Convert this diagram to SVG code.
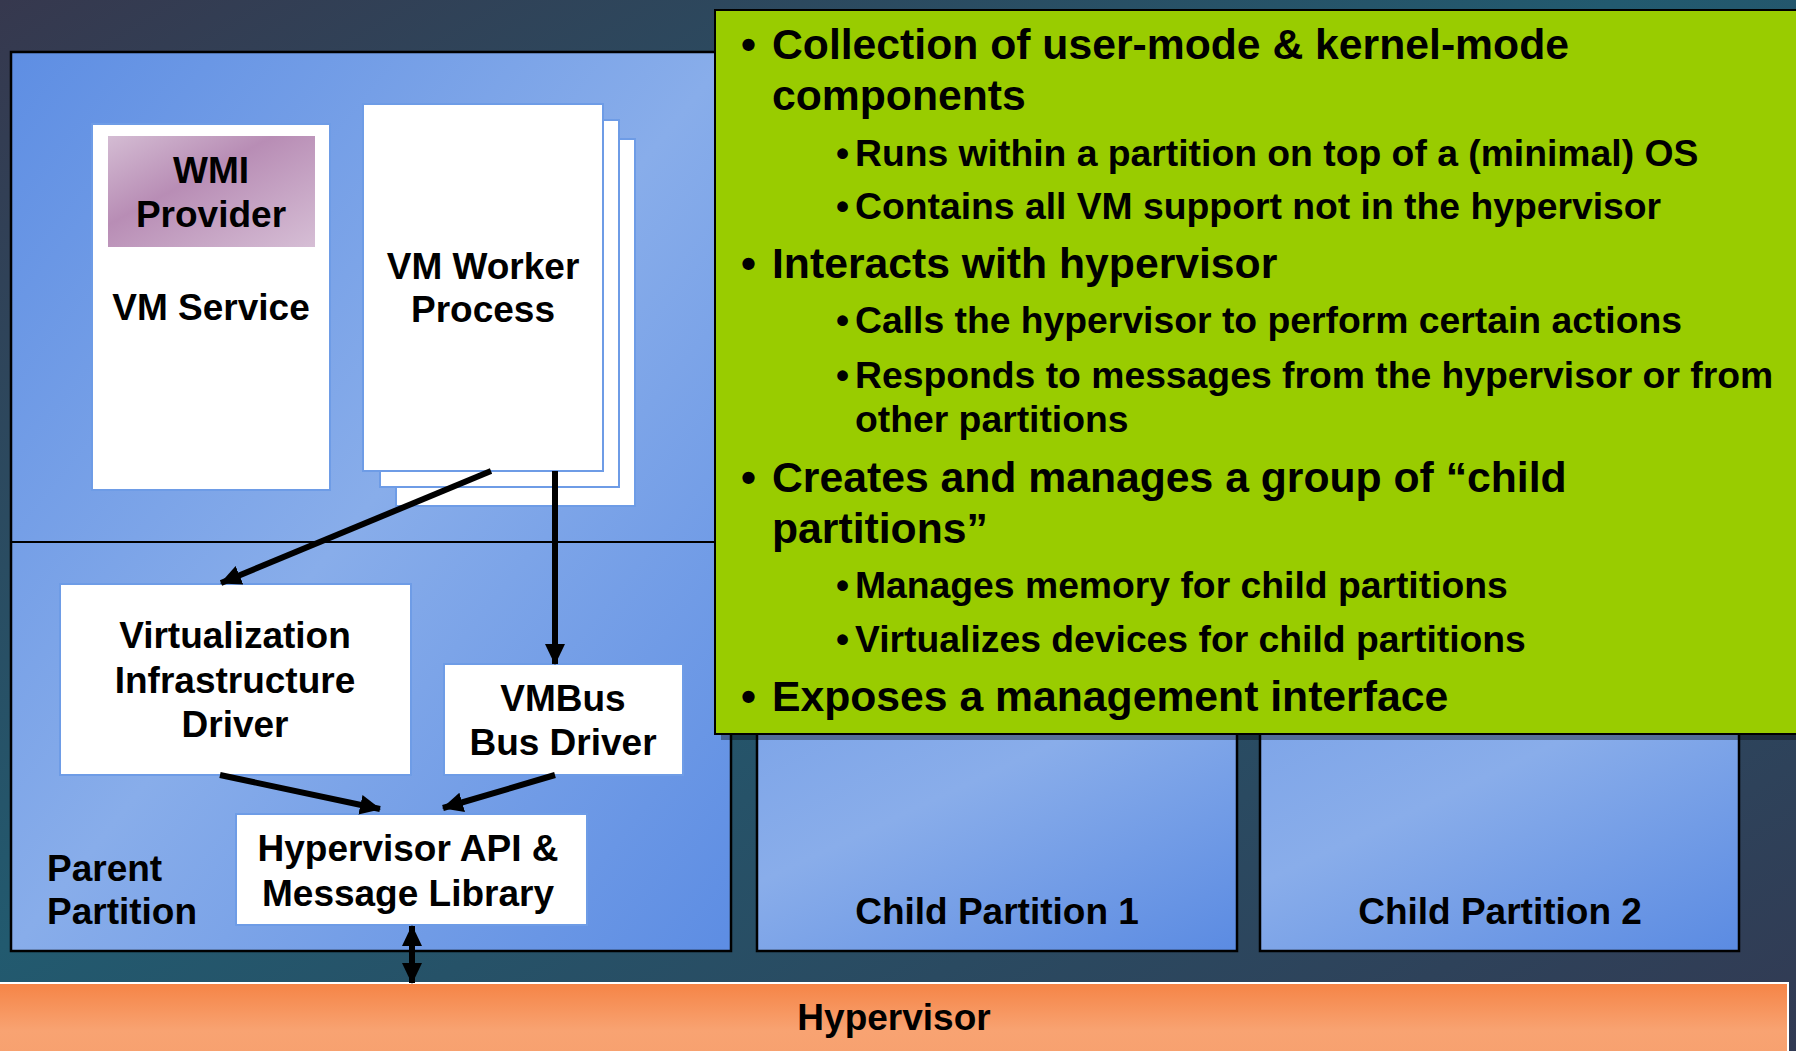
<svg xmlns="http://www.w3.org/2000/svg" width="1796" height="1051" viewBox="0 0 1796 1051">
<defs>
<linearGradient id="bg" x1="0" y1="0" x2="1" y2="1">
<stop offset="0" stop-color="#36384e"/>
<stop offset="0.45" stop-color="#225a6f"/>
<stop offset="1" stop-color="#323a53"/>
</linearGradient>
<linearGradient id="blue" x1="0" y1="0" x2="1" y2="1">
<stop offset="0" stop-color="#5e8ee3"/>
<stop offset="0.5" stop-color="#88adea"/>
<stop offset="1" stop-color="#5d8de3"/>
</linearGradient>
<linearGradient id="childblue" x1="0" y1="0" x2="1" y2="1">
<stop offset="0" stop-color="#7ea5e8"/>
<stop offset="0.35" stop-color="#89adea"/>
<stop offset="1" stop-color="#5b8be2"/>
</linearGradient>
<linearGradient id="wmi" x1="0" y1="0" x2="1" y2="1">
<stop offset="0" stop-color="#d4bcd3"/>
<stop offset="0.4" stop-color="#b88db5"/>
<stop offset="1" stop-color="#d6bed5"/>
</linearGradient>
<linearGradient id="orange" x1="0" y1="0" x2="0" y2="1">
<stop offset="0" stop-color="#f58446"/>
<stop offset="0.6" stop-color="#f8a372"/>
<stop offset="1" stop-color="#f7a06e"/>
</linearGradient>
<marker id="ah" markerUnits="userSpaceOnUse" markerWidth="22" markerHeight="22" viewBox="0 0 22 22" refX="20" refY="11" orient="auto-start-reverse">
<path d="M0,1 L21,11 L0,21 Z" fill="#000"/>
</marker>
<style>
.lbl{font-family:"Liberation Sans",Arial,sans-serif;font-weight:bold;font-size:37px;fill:#000;text-anchor:middle}
.main{font-family:"Liberation Sans",Arial,sans-serif;font-weight:bold;font-size:42.7px;fill:#000}
.sub{font-family:"Liberation Sans",Arial,sans-serif;font-weight:bold;font-size:37.3px;fill:#000}
.wbox{fill:#fff;stroke:#6e9ce6;stroke-width:2}
.part{stroke:#000;stroke-width:2.5}
.conn{stroke:#000;stroke-width:6;fill:none}
</style>
</defs>

<rect x="0" y="0" width="1796" height="1051" fill="url(#bg)"/>

<g id="parent-partition">
<rect class="part" x="11" y="52" width="720" height="899" fill="url(#blue)"/>
<line x1="11" y1="542" x2="731" y2="542" stroke="#000" stroke-width="2"/>
<text class="lbl" style="text-anchor:start" x="47" y="881">Parent</text>
<text class="lbl" style="text-anchor:start" x="47" y="924">Partition</text>
</g>

<g id="child-partition-1">
<rect class="part" x="757" y="725" width="480" height="226" fill="url(#childblue)"/>
<text class="lbl" x="997" y="924">Child Partition 1</text>
</g>

<g id="child-partition-2">
<rect class="part" x="1260" y="725" width="479" height="226" fill="url(#childblue)"/>
<text class="lbl" x="1500" y="924">Child Partition 2</text>
</g>

<g id="vm-service">
<rect class="wbox" x="92" y="124" width="238" height="366"/>
<text class="lbl" x="211" y="320">VM Service</text>
</g>

<g id="wmi-provider">
<rect x="108" y="136" width="207" height="111" fill="url(#wmi)"/>
<text class="lbl" x="211" y="183">WMI</text>
<text class="lbl" x="211" y="227">Provider</text>
</g>

<g id="vm-worker-process">
<rect class="wbox" x="396" y="139" width="239" height="367"/>
<rect class="wbox" x="380" y="120" width="239" height="367"/>
<rect class="wbox" x="363" y="104" width="240" height="367"/>
<text class="lbl" x="483" y="279">VM Worker</text>
<text class="lbl" x="483" y="322">Process</text>
</g>

<g id="vid">
<rect class="wbox" x="60" y="584" width="351" height="191"/>
<text class="lbl" x="235" y="648">Virtualization</text>
<text class="lbl" x="235" y="693">Infrastructure</text>
<text class="lbl" x="235" y="737">Driver</text>
</g>

<g id="vmbus">
<rect class="wbox" x="444" y="664" width="239" height="111"/>
<text class="lbl" x="563" y="711">VMBus</text>
<text class="lbl" x="563" y="755">Bus Driver</text>
</g>

<g id="hypervisor-api">
<rect class="wbox" x="236" y="814" width="351" height="111"/>
<text class="lbl" x="408" y="861">Hypervisor API &amp;</text>
<text class="lbl" x="408" y="906">Message Library</text>
</g>

<g id="hypervisor">
<rect x="-2" y="983" width="1790" height="80" fill="url(#orange)" stroke="#fff" stroke-width="2"/>
<text class="lbl" x="894" y="1030">Hypervisor</text>
</g>

<g id="connectors">
<line class="conn" x1="491" y1="471" x2="221" y2="583" marker-end="url(#ah)"/>
<line class="conn" x1="555" y1="471" x2="555" y2="664" marker-end="url(#ah)"/>
<line class="conn" x1="220" y1="775" x2="380" y2="809" marker-end="url(#ah)"/>
<line class="conn" x1="555" y1="775" x2="443" y2="808" marker-end="url(#ah)"/>
<line class="conn" x1="412" y1="926" x2="412" y2="983" marker-start="url(#ah)" marker-end="url(#ah)"/>
</g>

<g id="description">
<rect x="721" y="16" width="1090" height="724" fill="#000" opacity="0.35"/>
<rect x="715" y="10" width="1090" height="724" fill="#99cc00" stroke="#000" stroke-width="2"/>
<text class="main" x="741" y="59">•</text>
<text class="main" x="772" y="59">Collection of user-mode &amp; kernel-mode</text>
<text class="main" x="772" y="110">components</text>
<text class="sub" x="836" y="166">•</text>
<text class="sub" x="855" y="166">Runs within a partition on top of a (minimal) OS</text>
<text class="sub" x="836" y="219">•</text>
<text class="sub" x="855" y="219">Contains all VM support not in the hypervisor</text>
<text class="main" x="741" y="278">•</text>
<text class="main" x="772" y="278">Interacts with hypervisor</text>
<text class="sub" x="836" y="333">•</text>
<text class="sub" x="855" y="333">Calls the hypervisor to perform certain actions</text>
<text class="sub" x="836" y="388">•</text>
<text class="sub" x="855" y="388">Responds to messages from the hypervisor or from</text>
<text class="sub" x="855" y="432">other partitions</text>
<text class="main" x="741" y="492">•</text>
<text class="main" x="772" y="492">Creates and manages a group of “child</text>
<text class="main" x="772" y="543">partitions”</text>
<text class="sub" x="836" y="598">•</text>
<text class="sub" x="855" y="598">Manages memory for child partitions</text>
<text class="sub" x="836" y="652">•</text>
<text class="sub" x="855" y="652">Virtualizes devices for child partitions</text>
<text class="main" x="741" y="711">•</text>
<text class="main" x="772" y="711">Exposes a management interface</text>
</g>
</svg>
